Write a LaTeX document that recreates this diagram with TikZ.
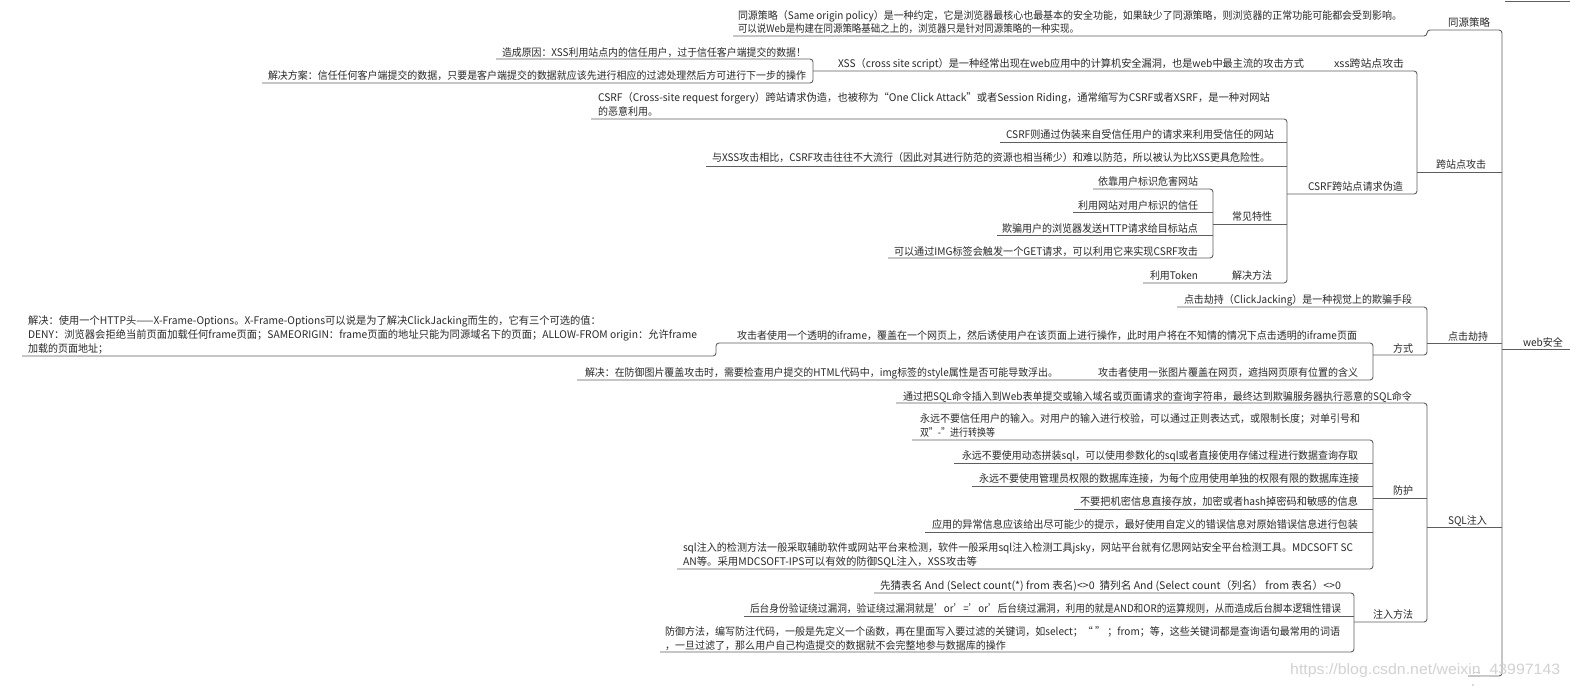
\documentclass[tikz,border=0pt]{standalone}
\usepackage{fontspec}
\usepackage{graphicx}
\setmainfont{Noto Sans CJK SC}
\newfontfamily\wmfont{Liberation Sans}
\definecolor{txtc}{HTML}{2A2A2A}
\definecolor{lnc}{HTML}{5E5E5E}
\definecolor{wmc}{HTML}{D2D2D2}
\newsavebox\ftbox
\newcommand\ft[2]{\sbox\ftbox{#2}\pgfmathsetmacro\ftr{(#1)/\the\wd\ftbox}\scalebox{\ftr}[1]{\usebox\ftbox}}
\newcommand\T[5]{\node[txt,anchor=base west] (#1) at (#2,#4+4.2) {\ft{#3-#2}{#5}};}
\tikzset{txt/.style={inner sep=0pt,outer sep=0pt,text=txtc,font=\fontsize{10.5}{12}\selectfont},
  ln/.style={draw=lnc,line width=0.9pt,rounded corners=3pt}}
\begin{document}
\begin{tikzpicture}[x=1pt,y=-1pt]
\useasboundingbox[fill=white] (0,0) rectangle (1570,689);
% ---------- root and spine
\T{root}{1523}{1563}{342}{web安全}
\draw[ln] (1502,349) -- (1570,349);
\draw[ln] (1505,1) -- (1570,1);
\draw[ln] (733,36) -- (1427,36) -- (1427,30) -- (1502,30) -- (1502,676) -- (1468,676);
\node[txt,font=\fontsize{6}{7}\selectfont,anchor=base] (more) at (1477,673) {....};
\fill[lnc] (1473,685) circle (0.7);
% ---------- 同源策略
\T{so}{1448}{1490}{22}{同源策略}
\T{so1}{738}{1402}{15}{同源策略（Same origin policy）是一种约定，它是浏览器最核心也最基本的安全功能，如果缺少了同源策略，则浏览器的正常功能可能都会受到影响。}
\T{so2}{738}{1079}{28}{可以说Web是构建在同源策略基础之上的，浏览器只是针对同源策略的一种实现。}
% ---------- 跨站点攻击
\T{kz}{1436}{1486}{164}{跨站点攻击}
\draw[ln] (1417,172) -- (1502,172);
\T{xssl}{1334}{1404}{63}{xss跨站点攻击}
\T{csrfl}{1308}{1403}{186}{CSRF跨站点请求伪造}
\draw[ln] (813,71) -- (1417,71) -- (1417,194) -- (1287,194);
\T{xss}{838}{1304}{63}{XSS（cross site script）是一种经常出现在web应用中的计算机安全漏洞，也是web中最主流的攻击方式}
\draw[ln] (496,59) -- (813,59) -- (813,83) -- (262,83);
\T{xc1}{502}{806}{52}{造成原因：XSS利用站点内的信任用户，过于信任客户端提交的数据！}
\T{xc2}{268}{806}{75}{解决方案：信任任何客户端提交的数据，只要是客户端提交的数据就应该先进行相应的过滤处理然后方可进行下一步的操作}
% CSRF
\draw[ln] (591,119) -- (1287,119) -- (1287,283) -- (1143,283);
\T{cs1}{598}{1270}{97}{CSRF（Cross-site request forgery）跨站请求伪造，也被称为“One Click Attack”或者Session Riding，通常缩写为CSRF或者XSRF，是一种对网站}
\T{cs1b}{598}{658}{111}{的恶意利用。}
\T{cs2}{1006}{1274}{134}{CSRF则通过伪装来自受信任用户的请求来利用受信任的网站}
\draw[ln] (1000,142) -- (1287,142);
\T{cs3}{712}{1270}{157}{与XSS攻击相比，CSRF攻击往往不大流行（因此对其进行防范的资源也相当稀少）和难以防范，所以被认为比XSS更具危险性。}
\draw[ln] (706,166) -- (1287,166);
\T{cj}{1232}{1272}{216}{常见特性}
\draw[ln] (1213,224) -- (1287,224);
\draw[ln] (1093,189) -- (1213,189) -- (1213,258) -- (888,258);
\T{c1}{1098}{1198}{181}{依靠用户标识危害网站}
\T{c2}{1078}{1198}{205}{利用网站对用户标识的信任}
\draw[ln] (1073,212) -- (1213,212);
\T{c3}{1002}{1198}{228}{欺骗用户的浏览器发送HTTP请求给目标站点}
\draw[ln] (997,235) -- (1213,235);
\T{c4}{894}{1198}{251}{可以通过IMG标签会触发一个GET请求，可以利用它来实现CSRF攻击}
\T{tok}{1150}{1198}{275}{利用Token}
\T{jj}{1232}{1272}{275}{解决方法}
% ---------- 点击劫持
\T{dj}{1448}{1488}{336}{点击劫持}
\draw[ln] (1427,343) -- (1502,343);
\draw[ln] (1177,307) -- (1427,307) -- (1427,355) -- (1373,355);
\T{djdef}{1184}{1412}{299}{点击劫持（ClickJacking）是一种视觉上的欺骗手段}
\T{fs}{1393}{1413}{348}{方式}
\draw[ln] (22,356) -- (716,356) -- (716,343) -- (1373,343) -- (1373,380) -- (577,380);
\T{ifr}{737}{1357}{335}{攻击者使用一个透明的iframe，覆盖在一个网页上，然后诱使用户在该页面上进行操作，此时用户将在不知情的情况下点击透明的iframe页面}
\T{ifs1}{28}{601}{320}{解决：使用一个HTTP头——X-Frame-Options。X-Frame-Options可以说是为了解决ClickJacking而生的，它有三个可选的值：}
\T{ifs2}{28}{697}{334}{DENY：浏览器会拒绝当前页面加载任何frame页面；SAMEORIGIN：frame页面的地址只能为同源域名下的页面；ALLOW-FROM origin：允许frame}
\T{ifs3}{28}{108}{348}{加载的页面地址；}
\T{pic}{1098}{1358}{372}{攻击者使用一张图片覆盖在网页，遮挡网页原有位置的含义}
\T{picsol}{585}{1058}{372}{解决：在防御图片覆盖攻击时，需要检查用户提交的HTML代码中，img标签的style属性是否可能导致浮出。}
% ---------- SQL注入
\T{sql}{1448}{1487}{520}{SQL注入}
\draw[ln] (1427,527) -- (1502,527);
\draw[ln] (896,403) -- (1427,403) -- (1427,622) -- (1354,622);
\T{sql1}{903}{1412}{396}{通过把SQL命令插入到Web表单提交或输入域名或页面请求的查询字符串，最终达到欺骗服务器执行恶意的SQL命令}
\T{fh}{1393}{1413}{490}{防护}
\draw[ln] (1373,498) -- (1427,498);
\draw[ln] (912,440) -- (1373,440) -- (1373,569) -- (677,569);
\T{p1a}{920}{1360}{418}{永远不要信任用户的输入。对用户的输入进行校验，可以通过正则表达式，或限制长度；对单引号和}
\T{p1b}{920}{995}{432}{双\symbol{34}-\symbol{34}进行转换等}
\T{p2}{962}{1358}{455}{永远不要使用动态拼装sql，可以使用参数化的sql或者直接使用存储过程进行数据查询存取}
\draw[ln] (954,463) -- (1373,463);
\T{p3}{979}{1359}{478}{永远不要使用管理员权限的数据库连接，为每个应用使用单独的权限有限的数据库连接}
\draw[ln] (972,486) -- (1373,486);
\T{p4}{1080}{1358}{501}{不要把机密信息直接存放，加密或者hash掉密码和敏感的信息}
\draw[ln] (1074,509) -- (1373,509);
\T{p5}{932}{1358}{524}{应用的异常信息应该给出尽可能少的提示，最好使用自定义的错误信息对原始错误信息进行包装}
\draw[ln] (925,532) -- (1373,532);
\T{p6a}{683}{1353}{547}{sql注入的检测方法一般采取辅助软件或网站平台来检测，软件一般采用sql注入检测工具jsky，网站平台就有亿思网站安全平台检测工具。MDCSOFT SC}
\T{p6b}{683}{977}{561}{AN等。采用MDCSOFT-IPS可以有效的防御SQL注入，XSS攻击等}
\T{zr}{1373}{1413}{614}{注入方法}
\draw[ln] (874,593) -- (1354,593) -- (1354,652) -- (660,652);
\T{i1}{880}{1341}{585}{先猜表名 And (Select count(*) from 表名)<>0\ \ 猜列名 And (Select count（列名） from 表名）<>0}
\T{i2}{750}{1341}{608}{后台身份验证绕过漏洞，验证绕过漏洞就是\symbol{39}or\symbol{39}=\symbol{39}or\symbol{39}后台绕过漏洞，利用的就是AND和OR的运算规则，从而造成后台脚本逻辑性错误}
\draw[ln] (744,616) -- (1354,616);
\T{i3a}{665}{1340}{631}{防御方法，编写防注代码，一般是先定义一个函数，再在里面写入要过滤的关键词，如select；“ ” ；from；等，这些关键词都是查询语句最常用的词语}
\T{i3b}{665}{1006}{645}{，一旦过滤了，那么用户自己构造提交的数据就不会完整地参与数据库的操作}
% ---------- watermark
\node[inner sep=0pt,anchor=base west,text=wmc,font=\wmfont\fontsize{15}{17}\selectfont] (wm) at (1290,674) {\ft{270}{https://blog.csdn.net/weixin\_43997143}};
\end{tikzpicture}
\end{document}
